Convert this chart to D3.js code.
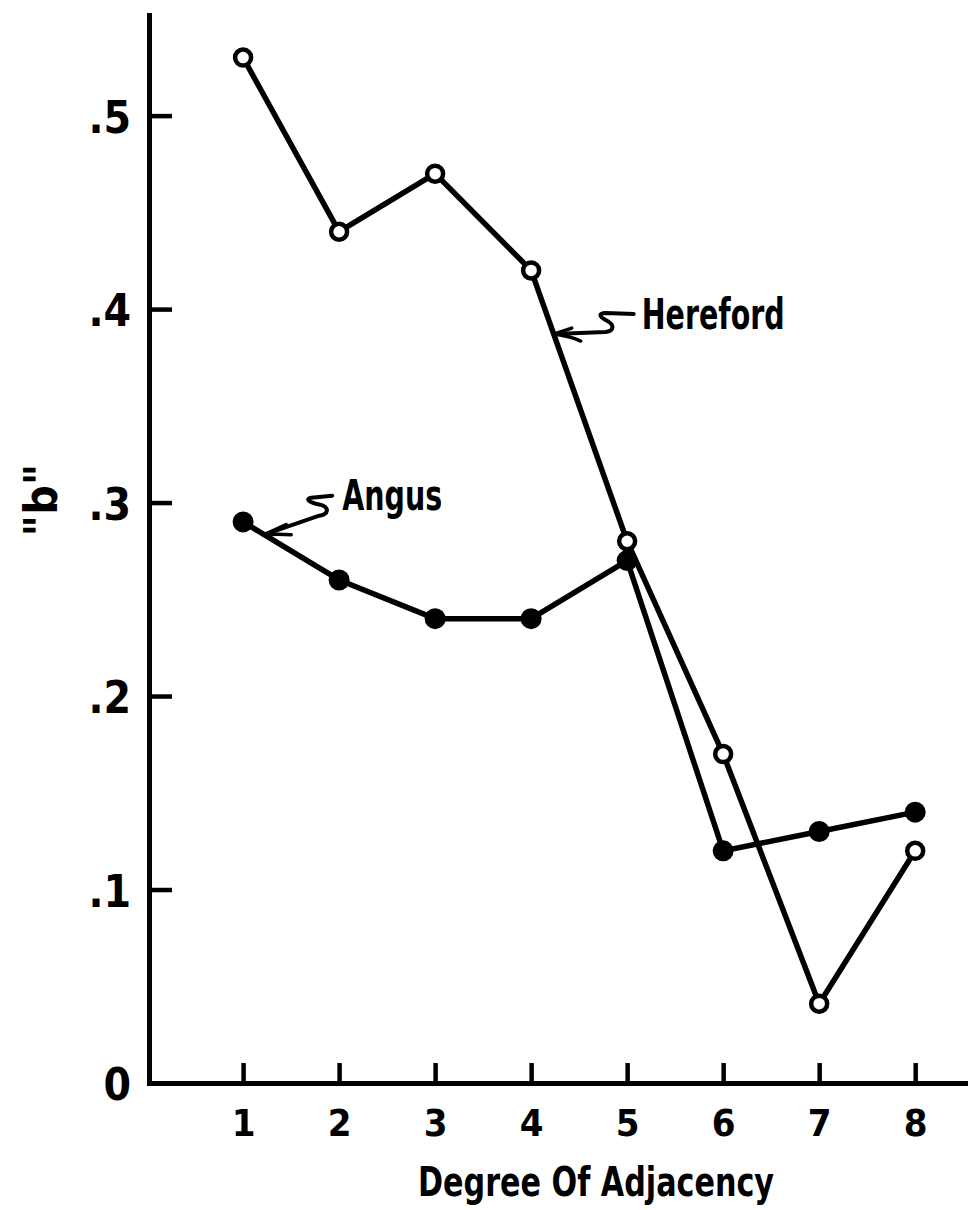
<!DOCTYPE html>
<html lang="en">
<head>
  <meta charset="UTF-8">
  <title>"b" by Degree Of Adjacency</title>
  <script src="https://d3js.org/d3.v7.min.js"></script>
  <style>
    body { margin: 0; background: #fff; }
    text { font-family: "DejaVu Sans Condensed", "Liberation Sans Narrow", sans-serif; font-weight: bold; fill: #000; }
  </style>
</head>
<body>
  <div id="chart"></div>

  <script>
  // values
  const degrees = [1, 2, 3, 4, 5, 6, 7, 8];
  const hereford = [0.53, 0.44, 0.47, 0.42, 0.28, 0.17, 0.041, 0.12];
  const angus = [0.29, 0.26, 0.24, 0.24, 0.27, 0.12, 0.13, 0.14];
  const yTicks = [0, 0.1, 0.2, 0.3, 0.4, 0.5];
  const yTickLabels = ["0", ".1", ".2", ".3", ".4", ".5"];

  const width = 968, height = 1210;

  const svg = d3.select("#chart").append("svg")
    .attr("width", width).attr("height", height);

  svg.append("rect").attr("width", width).attr("height", height).attr("fill", "#fff");

  const x = d3.scaleLinear().domain([0.02, 8.55]).range([149, 968]);
  const y = d3.scaleLinear().domain([0, 0.552]).range([1083, 15]);

  // axes
  const yAxis = svg.append("g")
    .attr("transform", "translate(149,0)")
    .call(d3.axisLeft(y)
      .tickValues(yTicks)
      .tickSize(-23)
      .tickSizeOuter(0)
      .tickPadding(18)
      .tickFormat((d, i) => yTickLabels[i]));
  yAxis.selectAll("text").attr("font-size", 44).attr("dy", "0.38em");

  const xAxis = svg.append("g")
    .attr("transform", "translate(0,1083)")
    .call(d3.axisBottom(x)
      .tickValues(degrees)
      .tickSize(-20)
      .tickSizeOuter(0)
      .tickPadding(26)
      .tickFormat(d3.format("d")));
  xAxis.selectAll("text").attr("font-size", 38);

  svg.selectAll(".domain").attr("stroke", "#000").attr("stroke-width", 5).attr("stroke-linecap", "square");
  svg.selectAll(".tick line").attr("stroke", "#000").attr("stroke-width", 4.5);

  // axis titles
  svg.append("text")
    .attr("x", 418).attr("y", 1196)
    .attr("font-size", 41)
    .attr("textLength", 356)
    .attr("lengthAdjust", "spacingAndGlyphs")
    .text("Degree Of Adjacency");

  svg.append("text")
    .attr("transform", "translate(57,500) rotate(-90)")
    .attr("text-anchor", "middle")
    .attr("font-size", 46)
    .text("\"b\"");

  // series
  const line = d3.line()
    .x((d, i) => x(degrees[i]))
    .y(d => y(d));

  svg.append("path").datum(hereford)
    .attr("d", line).attr("fill", "none")
    .attr("stroke", "#000").attr("stroke-width", 5.5).attr("stroke-linejoin", "round");

  svg.append("path").datum(angus)
    .attr("d", line).attr("fill", "none")
    .attr("stroke", "#000").attr("stroke-width", 5.5).attr("stroke-linejoin", "round");

  svg.append("g").selectAll("circle")
    .data(angus)
    .enter().append("circle")
    .attr("cx", (d, i) => x(degrees[i]))
    .attr("cy", d => y(d))
    .attr("r", 10.5)
    .attr("fill", "#000");

  svg.append("g").selectAll("circle")
    .data(hereford)
    .enter().append("circle")
    .attr("cx", (d, i) => x(degrees[i]))
    .attr("cy", d => y(d))
    .attr("r", 8)
    .attr("fill", "#fff")
    .attr("stroke", "#000")
    .attr("stroke-width", 4.5);

  // labels with squiggle arrows, tip placed on the series line
  function pointOn(values, i, t) {
    return [
      x(degrees[i]) + t * (x(degrees[i + 1]) - x(degrees[i])),
      y(values[i]) + t * (y(values[i + 1]) - y(values[i]))
    ];
  }

  function note(tip, squiggle, barbs, label, textPos, len) {
    const g = svg.append("g").attr("transform", `translate(${tip[0]},${tip[1]})`);
    g.append("path").attr("d", squiggle)
      .attr("fill", "none").attr("stroke", "#000").attr("stroke-width", 4)
      .attr("stroke-linecap", "round").attr("stroke-linejoin", "round");
    g.append("path").attr("d", barbs)
      .attr("fill", "none").attr("stroke", "#000").attr("stroke-width", 3.5)
      .attr("stroke-linecap", "round");
    g.append("text")
      .attr("x", textPos[0]).attr("y", textPos[1])
      .attr("font-size", 43)
      .attr("textLength", len)
      .attr("lengthAdjust", "spacingAndGlyphs")
      .text(label);
  }

  note(pointOn(hereford, 3, 0.235),
    "M80,-20 L52,-21 C44,-21 46,-17 52,-14 C62,-9 60,-3 52,-2 L0,0",
    "M18,-6 L0,0 Q16,2 27,7",
    "Hereford", [88, -5], 143);

  note(pointOn(angus, 0, 0.22),
    "M68,-39 L47,-37 C41,-36 44,-32 56,-30 C66,-27 64,-20 55,-19 L0,0",
    "M22,-10 L0,0 Q14,-1 27,0",
    "Angus", [78, -25], 100);
  </script>
</body>
</html>
